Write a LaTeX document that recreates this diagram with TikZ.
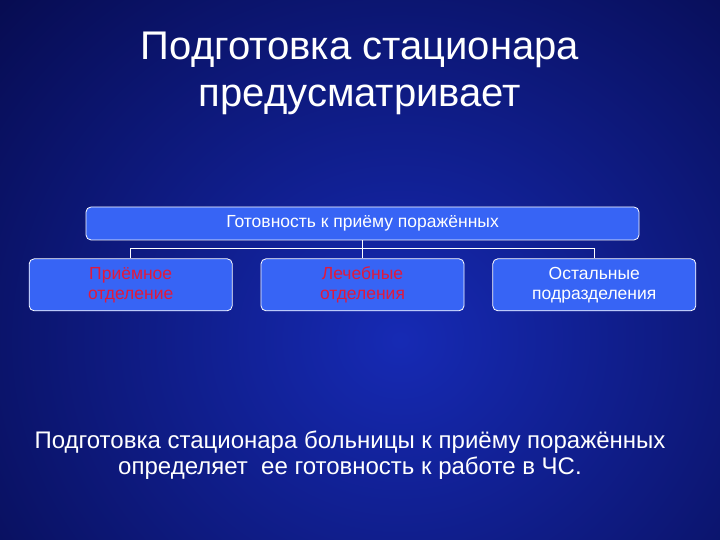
\documentclass[tikz,border=0pt]{standalone}
\usepackage{fontspec}
\setmainfont{Liberation Sans}
\usepackage{tikz}
\usetikzlibrary{calc, positioning}

\definecolor{slidedark}{RGB}{4,6,62}
\definecolor{slidelight}{RGB}{22,42,180}
\definecolor{boxblue}{RGB}{55,100,245}
\definecolor{redtext}{RGB}{225,25,60}

\begin{document}
\begin{tikzpicture}[x=1pt,y=1pt,node distance=18pt,
                    thick,
                    main box/.style={rectangle,rounded corners=5pt,draw=white,line width=0.8pt,
                                     fill=boxblue,font=\fontsize{17.5}{20}\selectfont,align=center,
                                     inner sep=0pt},
                    sub box/.style={main box,minimum width=203pt,minimum height=52pt},
                    fork/.style={to path={-- ++(0,-8) -| (\tikztotarget)}}]

  % background
  \useasboundingbox (0,0) rectangle (720,540);
  \fill[slidedark] (0,0) rectangle (720,540);
  \begin{scope}
    \clip (0,0) rectangle (720,540);
    \shade[inner color=slidelight,outer color=slidedark] (-250,-400) rectangle (1050,800);
  \end{scope}

  \node[text=white,font=\fontsize{40}{47}\selectfont,align=center] (title) at (360,467)
    {Подготовка стационара\\предусматривает};

  \node[main box,text=white,minimum width=553pt,minimum height=33pt] (top) at (362.5,316.5)
    {Готовность к приёму поражённых};
  \node[sub box,text=redtext] (2) [below=of top] {Лечебные\\отделения};
  \node[sub box,text=redtext] (1) [left=28pt of 2] {Приёмное\\отделение};
  \node[sub box,text=white] (3) [right=28pt of 2] {Остальные\\подразделения};

  \path[draw=white,line width=1.4pt]
    (top.south) edge[fork] (1.north)
                edge[fork] (2.north)
                edge[fork] (3.north);

  \node[text=white,font=\fontsize{24}{26}\selectfont,align=center] (note) at (350,85)
    {Подготовка стационара больницы к приёму поражённых\\определяет\ \ ее готовность к работе в ЧС.};

\end{tikzpicture}
\end{document}
